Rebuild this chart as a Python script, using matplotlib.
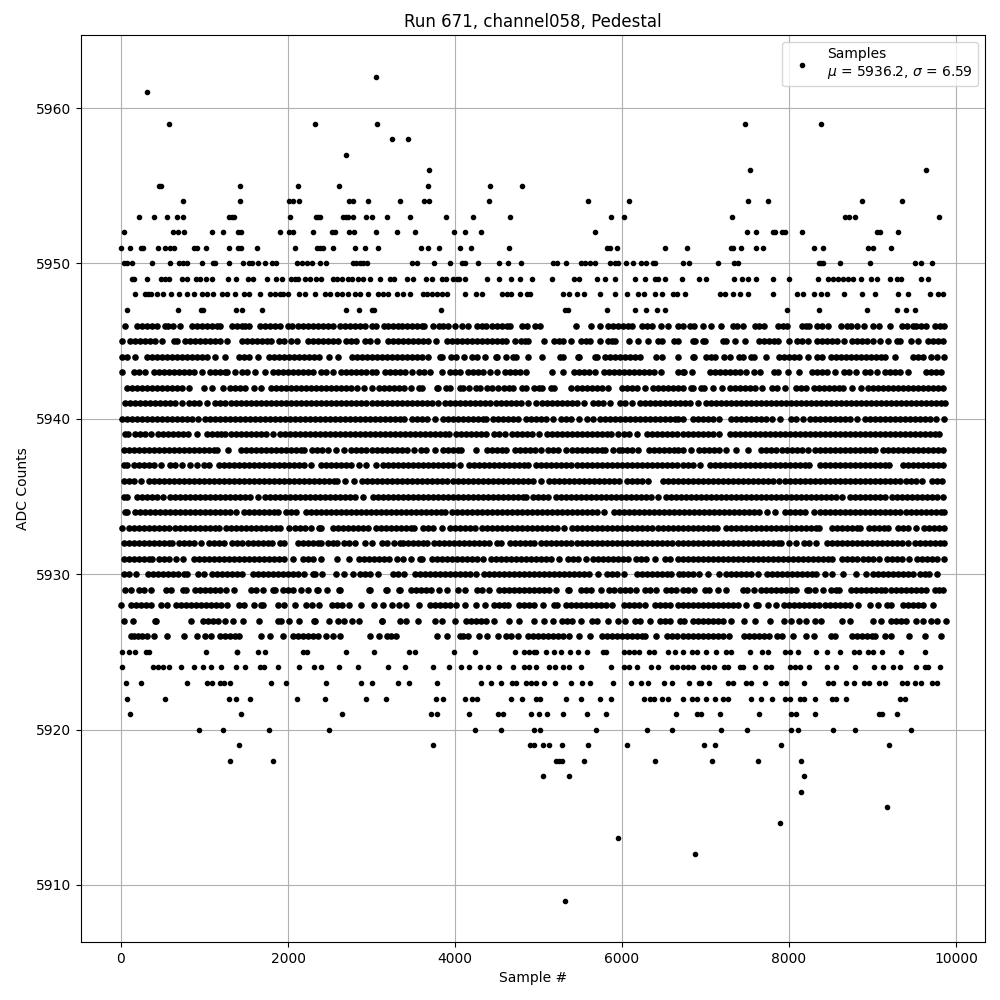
import numpy as np
import matplotlib
matplotlib.use("Agg")
import matplotlib.pyplot as plt

s5962 = [3050]
s5961 = [315]
s5959 = [578, 2327, 3070, 7477, 8388]
s5958 = [3249, 3441]
s5957 = [2698]
s5956 = [3692, 7537, 9645]
s5955 = [459, 480, 1429, 2124, 2614, 3680, 4423, 4806]
s5954 = [746, 1429, 2012, 2064, 2136, 2730, 2782, 2962, 3341, 3628, 3692, 4411, 5596, 6087, 7513, 7753, 8879, 9358]
s5953 = [219, 399, 555, 674, 746, 1297, 1329, 1353, 2028, 2331, 2363, 2383, 2662, 2694, 2722, 2774, 2934, 3002, 3189, 3465, 3896, 4219, 4662, 5872, 6028, 7322, 8671, 8723, 8795, 9801]
s5952 = [40, 626, 678, 758, 1093, 1225, 1405, 1433, 1908, 2012, 2056, 2303, 2522, 2562, 2730, 2794, 3058, 3309, 3525, 3992, 4123, 4315, 5680, 7501, 7609, 7813, 7833, 7913, 7953, 8160, 9050, 9094, 9310]
s5951 = [4, 112, 240, 260, 447, 527, 587, 638, 874, 914, 1014, 1297, 1405, 1433, 1632, 2088, 2351, 2383, 2415, 2542, 2806, 2926, 3082, 3596, 3680, 3812, 4063, 4195, 4650, 5824, 5856, 5936, 6519, 6783, 7302, 7326, 7430, 7609, 7693, 8304, 8412, 8950, 9010, 9226]
s5950 = [40, 68, 135, 375, 590, 698, 738, 794, 974, 1105, 1121, 1297, 1465, 1533, 1565, 1645, 1729, 1805, 1857, 2104, 2164, 2224, 2291, 2387, 2459, 2774, 2814, 2862, 2902, 2942, 3489, 3549, 3752, 3944, 4088, 4120, 4279, 4531, 4638, 4794, 5177, 5217, 5333, 5513, 5560, 5620, 5680, 5860, 5916, 5956, 6052, 6135, 6231, 6283, 6375, 6399, 6727, 6807, 7154, 7346, 7394, 8356, 8388, 8412, 8615, 8970, 9513, 9585, 9717]
s5949 = [130, 155, 315, 475, 527, 579, 726, 786, 898, 946, 1014, 1086, 1285, 1381, 1525, 1585, 1752, 1860, 1924, 2032, 2084, 2124, 2203, 2263, 2331, 2399, 2535, 2583, 2643, 2722, 2762, 2842, 2902, 2982, 3105, 3221, 3269, 3421, 3501, 3652, 3720, 3840, 3888, 3980, 4028, 4052, 4123, 4387, 4531, 4674, 4782, 4926, 5165, 5425, 5489, 5704, 5800, 5920, 6159, 6279, 6395, 6435, 6519, 6715, 6926, 7006, 7346, 7433, 7505, 7609, 7809, 8004, 8352, 8471, 8523, 8591, 8651, 8711, 8763, 8867, 8982, 9050, 9210, 9290, 9338, 9585, 9669]
s5948 = [171, 287, 327, 355, 427, 499, 602, 698, 786, 878, 966, 1026, 1105, 1213, 1265, 1365, 1477, 1537, 1660, 1784, 1844, 1904, 1944, 2004, 2136, 2203, 2323, 2443, 2503, 2583, 2643, 2722, 2802, 2862, 2962, 3082, 3142, 3201, 3301, 3381, 3461, 3620, 3660, 3720, 3780, 3840, 3900, 4123, 4255, 4319, 4559, 4619, 4666, 4782, 4862, 4898, 5297, 5369, 5465, 5545, 5736, 5920, 6063, 6195, 6267, 6395, 6475, 6614, 6654, 6755, 7174, 7234, 7334, 7414, 7513, 7813, 8100, 8172, 8304, 8384, 8459, 8663, 8879, 9034, 9310, 9422, 9693, 9789, 9849]
s5947 = [68, 678, 954, 978, 1381, 1445, 1684, 2698, 2854, 3002, 3030, 3836, 5317, 5349, 5824, 6159, 6291, 6423, 6519, 7980, 8364, 8938, 9298, 9398, 9513]
s5946 = [52, 187, 247, 307, 367, 427, 527, 567, 627, 710, 846, 906, 966, 1026, 1086, 1145, 1185, 1325, 1385, 1445, 1485, 1537, 1664, 1724, 1784, 1844, 1904, 1996, 2044, 2124, 2183, 2243, 2303, 2363, 2423, 2483, 2543, 2623, 2683, 2742, 2802, 2862, 2922, 3002, 3054, 3150, 3201, 3261, 3321, 3361, 3421, 3481, 3541, 3600, 3628, 3740, 3808, 3860, 3920, 4004, 4080, 4151, 4267, 4319, 4371, 4439, 4499, 4559, 4619, 4659, 4798, 4862, 4958, 5022, 5445, 5632, 5740, 5836, 5896, 5956, 6016, 6076, 6115, 6235, 6295, 6363, 6471, 6555, 6675, 6735, 6815, 6863, 6974, 7070, 7190, 7334, 7382, 7453, 7593, 7645, 7701, 7873, 7933, 7980, 8152, 8204, 8244, 8332, 8392, 8471, 8623, 8691, 8739, 8819, 8899, 9002, 9074, 9214, 9350, 9410, 9489, 9521, 9577, 9637, 9749, 9809, 9857]
s5945 = [8, 110, 170, 230, 290, 350, 410, 490, 640, 665, 770, 830, 890, 950, 1010, 1070, 1130, 1190, 1270, 1450, 1510, 1570, 1630, 1690, 1750, 1800, 1890, 1950, 2040, 2110, 2240, 2300, 2360, 2420, 2480, 2540, 2595, 2700, 2760, 2815, 2920, 2980, 3060, 3200, 3260, 3320, 3380, 3440, 3500, 3560, 3620, 3680, 3770, 3905, 3965, 4025, 4085, 4145, 4205, 4265, 4325, 4385, 4445, 4505, 4565, 4610, 4713, 4790, 4840, 4870, 5069, 5180, 5240, 5290, 5389, 5510, 5570, 5620, 5733, 5830, 5880, 5920, 6081, 6189, 6309, 6430, 6480, 6620, 6670, 6845, 6875, 6975, 6995, 7215, 7245, 7359, 7467, 7645, 7705, 7765, 7825, 7870, 7995, 8095, 8155, 8225, 8330, 8390, 8450, 8510, 8570, 8660, 8750, 8810, 8870, 8930, 9000, 9095, 9190, 9295, 9335, 9465, 9545, 9660, 9720, 9780, 9845]
s5944 = [10, 70, 170, 310, 370, 430, 490, 550, 610, 670, 730, 790, 850, 910, 970, 1030, 1130, 1245, 1410, 1470, 1530, 1635, 1770, 1830, 1890, 1950, 2010, 2070, 2130, 2190, 2250, 2310, 2370, 2490, 2595, 2765, 2825, 2885, 2945, 3005, 3065, 3125, 3185, 3245, 3305, 3365, 3425, 3485, 3545, 3605, 3675, 3820, 3850, 3955, 4010, 4110, 4200, 4260, 4360, 4485, 4500, 4609, 4700, 4730, 4880, 5037, 5260, 5290, 5475, 5490, 5675, 5700, 5800, 5860, 5920, 5980, 6040, 6100, 6160, 6210, 6405, 6475, 6675, 6845, 6865, 7005, 7065, 7115, 7225, 7295, 7405, 7445, 7545, 7585, 7719, 7880, 7940, 8000, 8060, 8120, 8225, 8340, 8395, 8500, 8560, 8620, 8680, 8740, 8800, 8860, 8920, 8980, 9040, 9100, 9145, 9267, 9490, 9550, 9605, 9695, 9775, 9855]
s5943 = [8, 150, 210, 290, 400, 460, 520, 580, 640, 700, 760, 820, 880, 975, 1065, 1125, 1185, 1245, 1275, 1362, 1450, 1505, 1600, 1720, 1820, 1880, 1940, 2000, 2060, 2120, 2180, 2240, 2295, 2390, 2450, 2535, 2640, 2700, 2760, 2820, 2880, 2940, 3000, 3055, 3160, 3220, 3280, 3340, 3400, 3489, 3565, 3625, 3695, 3849, 3940, 4000, 4060, 4160, 4220, 4280, 4330, 4420, 4500, 4600, 4660, 4720, 4780, 4850, 5157, 5289, 5430, 5490, 5550, 5610, 5680, 5785, 5845, 5905, 5965, 6025, 6085, 6145, 6205, 6265, 6325, 6385, 6470, 6675, 6725, 6745, 6843, 7055, 7115, 7175, 7235, 7295, 7355, 7415, 7480, 7575, 7655, 7825, 7865, 7983, 8115, 8280, 8340, 8400, 8460, 8555, 8655, 8715, 8800, 8910, 8970, 9050, 9155, 9215, 9275, 9335, 9420, 9635, 9695, 9755, 9825]
s5942 = [70, 130, 190, 250, 310, 370, 430, 490, 550, 610, 670, 730, 815, 990, 1085, 1216, 1300, 1360, 1420, 1490, 1590, 1675, 1800, 1860, 1920, 1980, 2040, 2100, 2160, 2220, 2280, 2340, 2400, 2460, 2520, 2580, 2640, 2700, 2755, 2830, 2915, 3004, 3090, 3150, 3210, 3270, 3330, 3390, 3475, 3565, 3610, 3780, 3800, 3890, 3940, 4060, 4100, 4169, 4255, 4300, 4385, 4445, 4510, 4590, 4650, 4700, 4805, 4850, 4945, 5005, 5040, 5150, 5185, 5385, 5460, 5520, 5580, 5640, 5700, 5760, 5835, 6005, 6065, 6125, 6185, 6270, 6370, 6430, 6490, 6550, 6610, 6670, 6725, 6825, 6845, 6945, 6985, 7095, 7203, 7295, 7355, 7415, 7475, 7535, 7595, 7675, 7800, 7860, 7950, 8085, 8145, 8205, 8295, 8355, 8415, 8475, 8535, 8595, 8645, 8755, 8865, 8950, 9010, 9070, 9130, 9190, 9250, 9310, 9370, 9430, 9490, 9550, 9610, 9670, 9730, 9790, 9845]
s5941 = [50, 110, 170, 230, 290, 350, 410, 470, 530, 590, 650, 735, 815, 875, 935, 1035, 1120, 1180, 1240, 1320, 1380, 1440, 1500, 1560, 1620, 1680, 1740, 1800, 1860, 1920, 1980, 2040, 2100, 2160, 2220, 2280, 2340, 2400, 2460, 2520, 2580, 2640, 2700, 2760, 2820, 2880, 2940, 3000, 3060, 3120, 3180, 3240, 3300, 3360, 3420, 3480, 3540, 3600, 3660, 3720, 3795, 3885, 3945, 4005, 4065, 4125, 4185, 4245, 4305, 4365, 4425, 4485, 4545, 4605, 4665, 4725, 4785, 4880, 4965, 5045, 5105, 5165, 5225, 5285, 5345, 5405, 5465, 5540, 5655, 5715, 5775, 5860, 5975, 6035, 6115, 6215, 6275, 6335, 6395, 6455, 6515, 6575, 6635, 6695, 6755, 6815, 6915, 7005, 7065, 7125, 7185, 7245, 7305, 7365, 7425, 7485, 7545, 7605, 7665, 7725, 7785, 7845, 7905, 7965, 8025, 8085, 8145, 8205, 8265, 8325, 8385, 8445, 8505, 8565, 8625, 8685, 8745, 8805, 8865, 8925, 8985, 9045, 9105, 9165, 9225, 9285, 9345, 9405, 9465, 9525, 9585, 9645, 9705, 9765, 9825, 9865]
s5940 = [10, 70, 130, 190, 250, 310, 370, 430, 490, 550, 610, 670, 730, 790, 850, 925, 1000, 1060, 1120, 1180, 1240, 1300, 1360, 1420, 1480, 1540, 1600, 1660, 1720, 1780, 1840, 1900, 1960, 2020, 2080, 2140, 2200, 2260, 2320, 2380, 2440, 2500, 2560, 2620, 2680, 2740, 2800, 2860, 2920, 2980, 3040, 3100, 3160, 3220, 3280, 3340, 3395, 3485, 3545, 3605, 3665, 3755, 3855, 3915, 3975, 4035, 4095, 4155, 4215, 4275, 4335, 4370, 4455, 4515, 4575, 4635, 4695, 4750, 4855, 4915, 4975, 5035, 5095, 5170, 5275, 5335, 5395, 5480, 5585, 5650, 5735, 5795, 5855, 5915, 5975, 6035, 6095, 6155, 6215, 6275, 6335, 6395, 6455, 6515, 6575, 6635, 6670, 6727, 6855, 6915, 6975, 7035, 7095, 7165, 7310, 7370, 7430, 7490, 7550, 7610, 7670, 7730, 7800, 7895, 8025, 8085, 8165, 8255, 8315, 8375, 8435, 8495, 8555, 8615, 8675, 8735, 8810, 8910, 8970, 9030, 9090, 9150, 9210, 9270, 9330, 9390, 9450, 9510, 9570, 9630, 9690, 9760, 9855]
s5939 = [50, 85, 170, 230, 290, 355, 440, 500, 560, 620, 680, 740, 800, 905, 1030, 1090, 1150, 1195, 1248, 1320, 1380, 1440, 1500, 1560, 1620, 1680, 1740, 1815, 1900, 1960, 2020, 2080, 2140, 2200, 2260, 2320, 2380, 2440, 2500, 2560, 2620, 2680, 2740, 2800, 2860, 2920, 2980, 3040, 3100, 3160, 3220, 3280, 3340, 3400, 3460, 3520, 3580, 3640, 3700, 3760, 3820, 3880, 3930, 4015, 4075, 4135, 4195, 4255, 4315, 4370, 4465, 4525, 4600, 4685, 4745, 4805, 4865, 4925, 5010, 5100, 5160, 5220, 5280, 5340, 5400, 5460, 5520, 5580, 5640, 5700, 5760, 5820, 5870, 5949, 6025, 6085, 6175, 6295, 6355, 6415, 6475, 6535, 6595, 6655, 6730, 6790, 6850, 6910, 6970, 7030, 7090, 7160, 7290, 7350, 7410, 7470, 7530, 7590, 7650, 7710, 7770, 7830, 7890, 7950, 8010, 8070, 8130, 8190, 8250, 8310, 8370, 8430, 8490, 8550, 8610, 8670, 8730, 8790, 8850, 8910, 8970, 9030, 9090, 9150, 9210, 9270, 9330, 9390, 9450, 9510, 9570, 9630, 9690, 9750, 9800]
s5938 = [30, 90, 150, 210, 270, 330, 390, 450, 510, 570, 630, 690, 750, 810, 870, 930, 990, 1050, 1110, 1155, 1276, 1435, 1495, 1555, 1615, 1675, 1735, 1795, 1855, 1915, 1975, 2035, 2095, 2155, 2195, 2290, 2350, 2410, 2475, 2580, 2675, 2760, 2820, 2880, 2940, 3000, 3060, 3120, 3180, 3240, 3300, 3360, 3430, 3513, 3595, 3655, 3760, 3855, 3915, 3975, 4035, 4075, 4257, 4385, 4445, 4505, 4565, 4615, 4720, 4780, 4840, 4900, 4960, 5030, 5115, 5175, 5230, 5325, 5405, 5465, 5525, 5585, 5645, 5705, 5765, 5795, 5895, 5960, 5995, 6055, 6115, 6190, 6325, 6385, 6445, 6505, 6565, 6625, 6670, 6730, 6825, 6920, 6980, 7040, 7100, 7160, 7250, 7370, 7510, 7670, 7730, 7790, 7850, 7910, 7970, 8030, 8090, 8150, 8230, 8315, 8375, 8435, 8495, 8555, 8615, 8675, 8735, 8795, 8855, 8915, 8975, 9030, 9130, 9190, 9250, 9310, 9370, 9430, 9490, 9550, 9610, 9670, 9730, 9790, 9850]
s5937 = [30, 75, 160, 220, 280, 340, 400, 475, 590, 650, 735, 830, 905, 990, 1055, 1175, 1235, 1295, 1355, 1415, 1475, 1535, 1595, 1655, 1715, 1775, 1835, 1895, 1955, 2015, 2075, 2135, 2195, 2275, 2400, 2460, 2520, 2580, 2640, 2700, 2760, 2845, 2940, 3050, 3135, 3195, 3255, 3315, 3375, 3435, 3495, 3555, 3615, 3675, 3735, 3795, 3855, 3915, 3975, 4060, 4165, 4225, 4285, 4345, 4405, 4465, 4525, 4585, 4645, 4705, 4765, 4825, 4875, 4975, 5035, 5095, 5155, 5215, 5275, 5335, 5395, 5455, 5515, 5575, 5635, 5695, 5755, 5815, 5875, 5935, 5995, 6055, 6115, 6175, 6235, 6295, 6355, 6415, 6475, 6535, 6595, 6655, 6730, 6790, 6850, 6935, 7055, 7115, 7175, 7235, 7295, 7355, 7415, 7475, 7535, 7595, 7655, 7715, 7775, 7835, 7895, 7955, 8015, 8075, 8135, 8195, 8240, 8375, 8435, 8495, 8555, 8615, 8675, 8735, 8795, 8855, 8915, 8975, 9035, 9095, 9155, 9200, 9360, 9420, 9480, 9540, 9600, 9660, 9720, 9780, 9850]
s5936 = [30, 90, 150, 245, 335, 395, 455, 515, 575, 635, 695, 755, 815, 875, 935, 995, 1055, 1115, 1175, 1235, 1295, 1355, 1415, 1475, 1535, 1595, 1655, 1715, 1775, 1835, 1895, 1955, 2015, 2075, 2135, 2195, 2255, 2315, 2375, 2435, 2495, 2555, 2590, 2680, 2790, 2890, 2950, 3010, 3070, 3130, 3190, 3250, 3310, 3370, 3430, 3490, 3550, 3610, 3670, 3730, 3790, 3850, 3910, 3970, 4030, 4090, 4150, 4210, 4270, 4330, 4390, 4450, 4510, 4570, 4630, 4690, 4750, 4810, 4870, 4930, 5030, 5120, 5180, 5240, 5300, 5360, 5420, 5480, 5540, 5600, 5660, 5720, 5780, 5840, 5900, 5960, 6065, 6125, 6185, 6245, 6310, 6485, 6545, 6605, 6665, 6725, 6785, 6845, 6905, 6965, 7025, 7085, 7145, 7205, 7265, 7325, 7385, 7445, 7505, 7565, 7625, 7685, 7745, 7805, 7875, 7955, 8015, 8075, 8135, 8195, 8255, 8315, 8375, 8435, 8495, 8555, 8615, 8675, 8735, 8795, 8855, 8915, 8975, 9035, 9095, 9155, 9215, 9275, 9335, 9395, 9455, 9515, 9590, 9710, 9770, 9830]
s5935 = [30, 75, 190, 250, 310, 370, 430, 505, 590, 650, 710, 770, 830, 890, 950, 1010, 1070, 1130, 1190, 1250, 1310, 1370, 1430, 1490, 1550, 1635, 1725, 1785, 1845, 1905, 1965, 2025, 2085, 2145, 2205, 2265, 2325, 2385, 2445, 2505, 2565, 2625, 2685, 2745, 2805, 2895, 3015, 3075, 3135, 3195, 3255, 3315, 3375, 3435, 3495, 3555, 3615, 3675, 3735, 3795, 3855, 3915, 3975, 4035, 4095, 4155, 4215, 4275, 4335, 4395, 4455, 4515, 4575, 4635, 4695, 4755, 4815, 4850, 4935, 4995, 5055, 5110, 5205, 5265, 5325, 5385, 5445, 5505, 5565, 5625, 5685, 5745, 5805, 5865, 5925, 5985, 6045, 6105, 6165, 6225, 6285, 6345, 6435, 6525, 6585, 6645, 6705, 6765, 6825, 6885, 6945, 7005, 7065, 7125, 7185, 7245, 7305, 7365, 7425, 7485, 7545, 7605, 7665, 7725, 7785, 7845, 7905, 7965, 8025, 8085, 8145, 8205, 8265, 8325, 8385, 8445, 8505, 8565, 8640, 8730, 8790, 8850, 8910, 8970, 9030, 9090, 9145, 9230, 9290, 9350, 9410, 9470, 9530, 9590, 9650, 9710, 9770, 9840]
s5934 = [50, 75, 170, 230, 290, 350, 410, 470, 530, 590, 650, 710, 770, 830, 890, 950, 1010, 1070, 1130, 1190, 1250, 1310, 1375, 1470, 1530, 1590, 1650, 1710, 1770, 1830, 1885, 1980, 2040, 2095, 2210, 2270, 2330, 2390, 2450, 2510, 2570, 2630, 2690, 2750, 2810, 2870, 2930, 2990, 3050, 3110, 3170, 3230, 3290, 3350, 3410, 3470, 3530, 3590, 3650, 3710, 3770, 3830, 3880, 3965, 4025, 4085, 4145, 4205, 4265, 4325, 4385, 4445, 4505, 4565, 4625, 4685, 4745, 4805, 4865, 4925, 4985, 5045, 5105, 5165, 5225, 5285, 5345, 5405, 5465, 5525, 5585, 5645, 5705, 5790, 5900, 5960, 6020, 6080, 6140, 6200, 6260, 6320, 6380, 6440, 6500, 6560, 6620, 6680, 6740, 6800, 6860, 6920, 6980, 7040, 7100, 7160, 7220, 7280, 7340, 7400, 7460, 7520, 7580, 7640, 7735, 7830, 7955, 8015, 8075, 8135, 8195, 8295, 8375, 8435, 8495, 8555, 8615, 8675, 8735, 8795, 8855, 8915, 8975, 9035, 9095, 9155, 9215, 9275, 9335, 9395, 9455, 9515, 9575, 9635, 9695, 9755, 9815, 9860]
s5933 = [16, 100, 160, 220, 280, 340, 400, 460, 520, 570, 650, 710, 770, 830, 890, 950, 1010, 1070, 1130, 1175, 1260, 1320, 1380, 1440, 1500, 1560, 1620, 1680, 1740, 1800, 1860, 1905, 2008, 2080, 2140, 2200, 2275, 2370, 2400, 2540, 2600, 2660, 2720, 2780, 2840, 2900, 2955, 3050, 3110, 3170, 3230, 3290, 3350, 3410, 3470, 3510, 3615, 3675, 3735, 3850, 3945, 4005, 4065, 4125, 4185, 4235, 4325, 4385, 4445, 4505, 4565, 4625, 4685, 4745, 4805, 4865, 4925, 4985, 5045, 5105, 5165, 5225, 5310, 5405, 5465, 5525, 5585, 5645, 5705, 5765, 5825, 5885, 5945, 6005, 6065, 6125, 6185, 6245, 6305, 6365, 6425, 6485, 6545, 6605, 6665, 6725, 6785, 6845, 6905, 6965, 7025, 7085, 7135, 7240, 7300, 7360, 7420, 7480, 7540, 7600, 7660, 7720, 7780, 7840, 7900, 7960, 8020, 8080, 8140, 8200, 8260, 8320, 8360, 8510, 8570, 8630, 8690, 8750, 8810, 8845, 8955, 9015, 9075, 9135, 9185, 9300, 9360, 9420, 9515, 9620, 9680, 9740, 9800, 9860]
s5932 = [40, 100, 160, 220, 280, 340, 400, 460, 520, 580, 615, 700, 760, 820, 880, 955, 1055, 1115, 1175, 1235, 1335, 1395, 1455, 1515, 1575, 1635, 1695, 1755, 1805, 1900, 1955, 2120, 2180, 2240, 2300, 2360, 2395, 2480, 2540, 2585, 2670, 2730, 2805, 2928, 3008, 3120, 3190, 3268, 3340, 3375, 3435, 3495, 3555, 3615, 3670, 3745, 3805, 3865, 3925, 3985, 4045, 4105, 4165, 4225, 4285, 4345, 4410, 4500, 4550, 4655, 4715, 4775, 4835, 4895, 4950, 5035, 5095, 5155, 5215, 5275, 5335, 5395, 5455, 5515, 5575, 5635, 5695, 5755, 5815, 5875, 5935, 5995, 6055, 6115, 6175, 6235, 6295, 6355, 6415, 6475, 6535, 6595, 6665, 6730, 6790, 6850, 6910, 6970, 7030, 7090, 7150, 7210, 7270, 7330, 7390, 7450, 7510, 7570, 7630, 7690, 7750, 7810, 7870, 7900, 8000, 8085, 8175, 8235, 8320, 8450, 8510, 8570, 8630, 8690, 8750, 8810, 8870, 8930, 8990, 9050, 9110, 9170, 9230, 9290, 9350, 9420, 9510, 9570, 9630, 9690, 9750, 9810, 9860]
s5931 = [30, 90, 150, 210, 270, 330, 375, 460, 520, 580, 655, 748, 870, 930, 990, 1050, 1110, 1170, 1230, 1290, 1350, 1410, 1470, 1530, 1590, 1650, 1710, 1770, 1830, 1890, 1950, 2055, 2175, 2235, 2295, 2395, 2590, 2736, 2855, 2915, 2975, 3035, 3095, 3155, 3215, 3305, 3375, 3470, 3575, 3610, 3725, 3785, 3845, 3905, 3965, 4025, 4085, 4145, 4205, 4265, 4330, 4435, 4495, 4555, 4615, 4675, 4735, 4795, 4855, 4915, 4975, 5035, 5095, 5155, 5250, 5355, 5415, 5475, 5570, 5655, 5715, 5775, 5835, 5895, 5955, 6015, 6070, 6165, 6225, 6285, 6390, 6515, 6575, 6665, 6725, 6785, 6845, 6905, 6965, 7025, 7085, 7145, 7205, 7265, 7325, 7385, 7445, 7505, 7565, 7625, 7685, 7745, 7805, 7865, 7925, 7985, 8045, 8105, 8165, 8225, 8285, 8345, 8405, 8465, 8510, 8640, 8700, 8760, 8820, 8880, 8940, 9000, 9075, 9170, 9230, 9290, 9350, 9440, 9530, 9590, 9650, 9710, 9770, 9855]
s5930 = [30, 90, 175, 320, 380, 440, 500, 560, 620, 685, 760, 795, 920, 995, 1095, 1155, 1215, 1275, 1335, 1395, 1445, 1575, 1635, 1695, 1755, 1815, 1875, 1935, 1995, 2055, 2115, 2195, 2300, 2325, 2404, 2580, 2665, 2776, 2860, 2920, 2980, 3075, 3260, 3320, 3390, 3515, 3575, 3635, 3695, 3755, 3815, 3875, 3935, 3995, 4055, 4115, 4175, 4250, 4345, 4405, 4465, 4525, 4585, 4645, 4705, 4765, 4825, 4885, 4945, 5005, 5065, 5125, 5185, 5245, 5305, 5365, 5425, 5485, 5545, 5605, 5710, 5820, 5880, 5940, 6025, 6175, 6235, 6295, 6355, 6415, 6475, 6535, 6590, 6680, 6730, 6790, 6850, 6925, 7025, 7160, 7245, 7305, 7365, 7425, 7485, 7540, 7627, 7740, 7800, 7860, 7920, 7980, 8040, 8100, 8160, 8220, 8280, 8325, 8427, 8515, 8650, 8800, 8920, 9005, 9065, 9125, 9185, 9245, 9305, 9365, 9425, 9480, 9565, 9625, 9680, 9767]
s5929 = [50, 115, 220, 280, 355, 540, 600, 740, 775, 890, 950, 1010, 1070, 1130, 1190, 1255, 1352, 1560, 1620, 1700, 1820, 1850, 1940, 2000, 2055, 2160, 2236, 2350, 2365, 2468, 2610, 2625, 2970, 2980, 3170, 3180, 3328, 3341, 3470, 3530, 3590, 3650, 3710, 3810, 3901, 4030, 4120, 4260, 4320, 4410, 4530, 4590, 4650, 4710, 4770, 4830, 4890, 4950, 5010, 5070, 5130, 5210, 5350, 5370, 5510, 5570, 5630, 5750, 5850, 5910, 5970, 6030, 6090, 6170, 6270, 6330, 6410, 6530, 6590, 6650, 6725, 6785, 6860, 6990, 7045, 7145, 7245, 7445, 7495, 7575, 7665, 7725, 7785, 7845, 7905, 7965, 8025, 8085, 8215, 8235, 8307, 8407, 8505, 8565, 8600, 8745, 8805, 8865, 8925, 8985, 9045, 9105, 9145, 9225, 9285, 9345, 9405, 9465, 9525, 9585, 9645, 9745, 9800, 9845]
s5928 = [4, 120, 180, 240, 300, 355, 480, 555, 660, 720, 780, 840, 900, 960, 1020, 1080, 1140, 1200, 1275, 1410, 1470, 1588, 1680, 1700, 1880, 1955, 2088, 2220, 2285, 2376, 2530, 2590, 2650, 2725, 2876, 3024, 3136, 3248, 3328, 3410, 3573, 3700, 3760, 3820, 3880, 3940, 4010, 4125, 4250, 4355, 4470, 4530, 4590, 4640, 4770, 4830, 4890, 4950, 5055, 5180, 5220, 5330, 5390, 5450, 5510, 5570, 5630, 5690, 5750, 5810, 5875, 6020, 6080, 6140, 6200, 6270, 6390, 6450, 6510, 6570, 6670, 6725, 6785, 6845, 6905, 6965, 7025, 7085, 7145, 7205, 7265, 7325, 7385, 7485, 7605, 7625, 7745, 7845, 7945, 8005, 8065, 8125, 8185, 8245, 8305, 8365, 8425, 8485, 8545, 8605, 8665, 8725, 8825, 8965, 9070, 9175, 9225, 9365, 9425, 9485, 9545, 9605, 9725]
s5927 = [40, 148, 405, 420, 844, 985, 1045, 1105, 1165, 1240, 1336, 1456, 1648, 1885, 1920, 2010, 2128, 2310, 2320, 2485, 2596, 2668, 2768, 2848, 3120, 3130, 3340, 3413, 3561, 3755, 3850, 4005, 4135, 4195, 4255, 4315, 4375, 4470, 4641, 4765, 4949, 5061, 5169, 5285, 5345, 5405, 5510, 5645, 5700, 5835, 5955, 6030, 6155, 6215, 6330, 6455, 6515, 6570, 6700, 6740, 6855, 6915, 6975, 7035, 7095, 7155, 7215, 7305, 7465, 7593, 7770, 7945, 8025, 8115, 8199, 8307, 8383, 8630, 8735, 9000, 9100, 9225, 9285, 9345, 9405, 9525, 9605, 9703, 9775, 9875]
s5926 = [116, 156, 208, 248, 316, 392, 556, 760, 916, 1000, 1072, 1190, 1250, 1310, 1370, 1415, 1680, 1780, 1936, 2060, 2120, 2180, 2240, 2300, 2355, 2452, 2536, 2620, 2980, 3088, 3180, 3236, 3296, 3790, 3905, 4055, 4100, 4161, 4285, 4385, 4509, 4615, 4675, 4750, 4875, 4935, 4995, 5055, 5115, 5175, 5235, 5295, 5370, 5481, 5613, 5755, 5815, 5875, 5935, 5995, 6055, 6115, 6175, 6235, 6270, 6410, 6535, 6595, 6655, 6730, 6790, 6850, 6910, 6970, 7030, 7090, 7150, 7210, 7285, 7465, 7525, 7585, 7645, 7705, 7765, 7855, 7919, 8045, 8205, 8305, 8505, 8555, 8750, 8810, 8870, 8930, 8990, 9025, 9150, 9225, 9440, 9625, 9825]
s5925 = [16, 100, 168, 300, 335, 1020, 1385, 1395, 1636, 1720, 2180, 2230, 2692, 3028, 3453, 3525, 3993, 4245, 4713, 4830, 4890, 4950, 4975, 5093, 5185, 5265, 5380, 5469, 5580, 5770, 5810, 6021, 6089, 6141, 6201, 6321, 6389, 6549, 6633, 6735, 6840, 6900, 7003, 7120, 7245, 7305, 7535, 7671, 7743, 7955, 8015, 8105, 8319, 8451, 8615, 8775, 8835, 8945, 9005, 9119, 9343, 9627]
s5924 = [15, 380, 440, 500, 570, 724, 880, 985, 1076, 1196, 1372, 1480, 1660, 1712, 1885, 2128, 2308, 2392, 2608, 2836, 3196, 3405, 3741, 3933, 4077, 4173, 4305, 4400, 4521, 4690, 4830, 4890, 4975, 5130, 5200, 5293, 5361, 5505, 5865, 6020, 6080, 6180, 6345, 6429, 6600, 6655, 6727, 6795, 6855, 6965, 7025, 7105, 7225, 7265, 7415, 7445, 7590, 7725, 7785, 8015, 8075, 8135, 8245, 8451, 8559, 8787, 9020, 9123, 9243, 9335, 9520, 9625, 9665, 9807]
s5923 = [64, 244, 796, 1024, 1088, 1180, 1236, 1308, 1792, 1972, 2452, 2872, 3004, 3316, 3453, 3789, 4317, 4437, 4545, 4680, 4730, 4850, 4910, 4970, 5070, 5193, 5395, 5517, 5613, 5890, 6105, 6230, 6310, 6501, 6600, 6807, 6925, 6945, 7047, 7275, 7335, 7487, 7543, 7707, 7905, 7965, 8180, 8463, 8527, 8683, 8775, 8895, 8963, 9083, 9147, 9355, 9415, 9507, 9579, 9707, 9767]
s5922 = [76, 532, 1288, 1372, 1550, 2104, 2440, 2932, 3172, 3777, 3861, 4125, 4209, 4269, 4665, 4797, 4965, 5017, 5333, 5505, 5733, 5873, 6261, 6333, 6381, 6477, 6549, 6735, 6843, 6903, 7011, 7115, 7215, 7275, 7539, 7665, 7791, 7947, 8015, 8127, 8183, 8307, 8510, 8560, 8679, 9327, 9387]
s5921 = [112, 1432, 2644, 3717, 3789, 4173, 4509, 4569, 4910, 5001, 5097, 5289, 5583, 5805, 6645, 6903, 6951, 7179, 7635, 8019, 8087, 8307, 9075, 9115, 9291]
s5920 = [940, 1216, 1768, 2488, 4245, 4545, 4949, 5013, 5685, 6297, 6597, 7191, 7491, 8019, 8103, 8531, 8795, 9455]
s5919 = [1408, 3741, 4893, 4945, 5053, 5121, 5277, 5589, 6057, 6987, 7119, 7899, 9195]
s5918 = [1300, 1816, 5205, 5240, 5277, 5541, 6393, 7083, 7623, 8139]
s5917 = [5049, 5361, 8175]
s5916 = [8139]
s5915 = [9171]
s5914 = [7887]
s5913 = [5949]
s5912 = [6879]
s5909 = [5317]

sparse_levels = {5962: s5962, 5961: s5961, 5959: s5959, 5958: s5958, 5957: s5957, 5956: s5956,
                 5955: s5955, 5954: s5954, 5953: s5953, 5952: s5952, 5951: s5951, 5950: s5950,
                 5949: s5949, 5948: s5948, 5947: s5947, 5925: s5925, 5924: s5924, 5923: s5923,
                 5922: s5922, 5921: s5921, 5920: s5920, 5919: s5919, 5918: s5918, 5917: s5917,
                 5916: s5916, 5915: s5915, 5914: s5914, 5913: s5913, 5912: s5912, 5909: s5909}
dense_levels = {5946: s5946, 5945: s5945, 5944: s5944, 5943: s5943, 5942: s5942, 5941: s5941,
                5940: s5940, 5939: s5939, 5938: s5938, 5937: s5937, 5936: s5936, 5935: s5935,
                5934: s5934, 5933: s5933, 5932: s5932, 5931: s5931, 5930: s5930, 5929: s5929,
                5928: s5928, 5927: s5927, 5926: s5926}


def flatten(levels):
    x = np.concatenate([np.asarray(v, dtype=float) for v in levels.values()])
    y = np.concatenate([np.full(len(v), k, dtype=float) for k, v in levels.items()])
    return x, y


fig = plt.figure(figsize=(10, 10), dpi=100)
ax = fig.add_axes([0.081, 0.058, 0.904, 0.907])
xs, ys = flatten(sparse_levels)
xd, yd = flatten(dense_levels)
ax.plot(xs, ys, "k.", label="Samples\n$\\mu$ = 5936.2, $\\sigma$ = 6.59")
ax.plot(xd, yd, "k.", markersize=7.5)
ax.set_xlim(-479, 10347)
ax.set_ylim(5906.33, 5964.7)
ax.set_title("Run 671, channel058, Pedestal")
ax.set_xlabel("Sample #")
ax.set_ylabel("ADC Counts")
ax.ticklabel_format(useOffset=False, style="plain", axis="y")
ax.grid(True)
ax.legend(loc="upper right")
fig.savefig("out.png", dpi=100)
